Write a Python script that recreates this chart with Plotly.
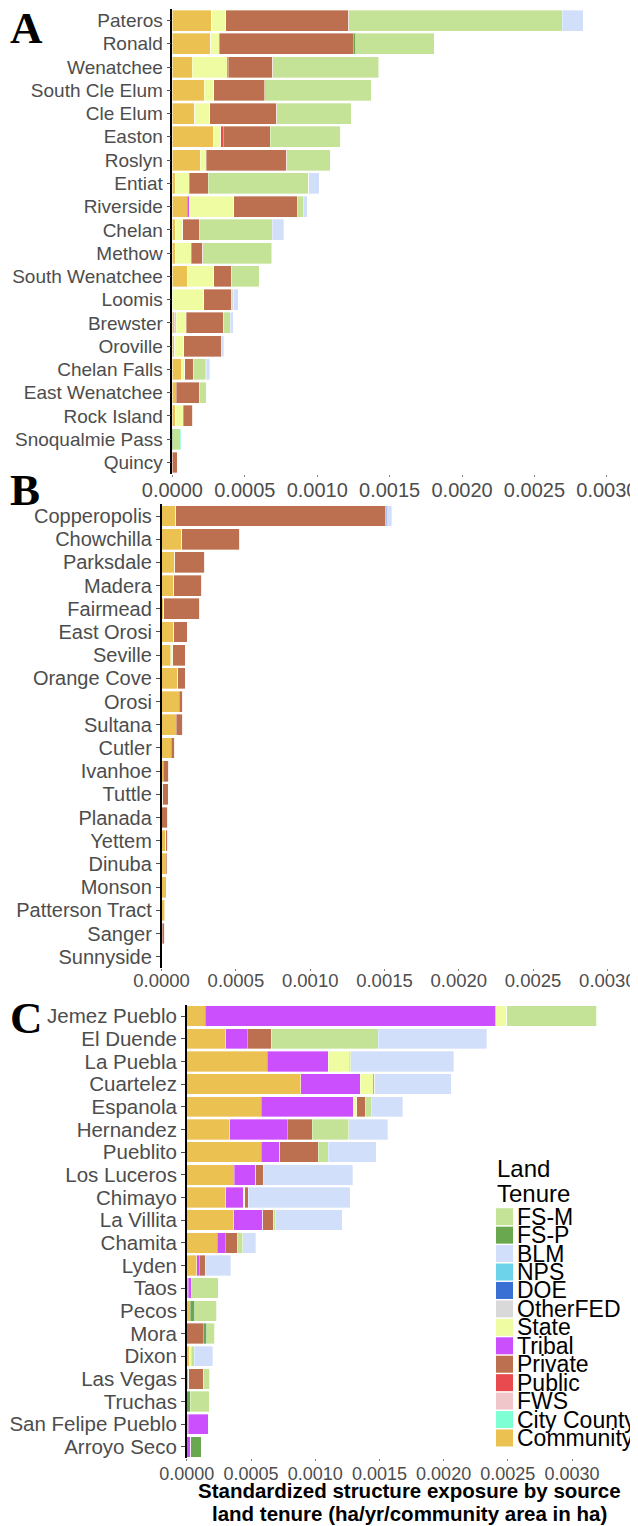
import plotly.graph_objects as go

# the page body keeps the browser's 8px margin, so the figure is sized to
# the visible 638x1526 window minus that offset
OFFSET = 8
W, H = 638 - OFFSET, 1526 - OFFSET
SCALE = 1e-4  # values below are read in units of 1e-4 ha/yr/ha

# legend order (top to bottom) and colours
TENURES = ["FS-M", "FS-P", "BLM", "NPS", "DOE", "OtherFED", "State",
           "Tribal", "Private", "Public", "FWS", "City County", "Community"]
COLORS = {
    "FS-M": "#C5E396", "FS-P": "#6AA84F", "BLM": "#D2DFFB", "NPS": "#6DD3EB",
    "DOE": "#3A70D4", "OtherFED": "#D9D9D9", "State": "#EFFCA2",
    "Tribal": "#CC4FFD", "Private": "#BD7050", "Public": "#E84A50",
    "FWS": "#F0C6CB", "City County": "#7FFFD4", "Community": "#EBC152",
}
# order in which segments stack from the axis outwards
STACK_ORDER = ["Community", "FWS", "Tribal", "State", "Public", "Private",
               "FS-P", "FS-M", "City County", "OtherFED", "DOE", "NPS", "BLM"]

# ---- panel A (Washington) ----
A_NAMES = ["Pateros", "Ronald", "Wenatchee", "South Cle Elum", "Cle Elum",
           "Easton", "Roslyn", "Entiat", "Riverside", "Chelan", "Methow",
           "South Wenatchee", "Loomis", "Brewster", "Oroville", "Chelan Falls",
           "East Wenatchee", "Rock Island", "Snoqualmie Pass", "Quincy"]
A_COMMUNITY = [2.70, 2.66, 1.37, 2.19, 1.54, 2.82, 1.91, 0.19, 1.03, 0.19,
               0.18, 1.01, 0, 0.12, 0.16, 0.60, 0.25, 0.23, 0, 0]
A_FWS = [0, 0, 0, 0, 0, 0, 0, 0, 0, 0, 0, 0, 0, 0.14, 0, 0, 0, 0, 0, 0]
A_TRIBAL = [0, 0, 0, 0, 0, 0, 0, 0, 0.14, 0, 0, 0, 0, 0, 0, 0, 0, 0, 0, 0]
A_STATE = [1.00, 0.58, 2.40, 0.65, 1.03, 0.51, 0.42, 0.96, 3.05, 0.54,
           1.13, 1.84, 2.16, 0.71, 0.62, 0.25, 0, 0.53, 0, 0]
A_PUBLIC = [0, 0, 0.10, 0, 0, 0.19, 0, 0, 0, 0, 0, 0, 0, 0, 0, 0, 0, 0, 0, 0]
A_PRIVATE = [8.46, 9.25, 3.05, 3.52, 4.64, 3.24, 5.55, 1.33, 4.40, 1.12,
             0.78, 1.24, 1.91, 2.58, 2.58, 0.64, 1.63, 0.64, 0, 0.32]
A_FSP = [0, 0.16, 0, 0.07, 0, 0, 0, 0, 0, 0, 0, 0, 0, 0, 0, 0, 0, 0, 0.09, 0]
A_FSM = [14.77, 5.43, 7.34, 7.32, 5.15, 4.87, 3.03, 6.92, 0.42, 5.06,
         4.72, 1.91, 0, 0.46, 0, 0.78, 0.48, 0.09, 0.46, 0]
A_CITY = [0, 0, 0.07, 0, 0, 0, 0, 0, 0, 0, 0, 0, 0, 0, 0, 0.07, 0, 0, 0.05, 0]
A_OTHERFED = [0, 0, 0, 0, 0, 0, 0, 0, 0, 0, 0, 0, 0.16, 0, 0, 0, 0, 0, 0, 0]
A_BLM = [1.44, 0, 0, 0, 0, 0, 0, 0.75, 0.28, 0.77, 0.07, 0, 0.30, 0.18,
         0.18, 0.23, 0, 0, 0, 0]

# ---- panel B (California) ----
B_NAMES = ["Copperopolis", "Chowchilla", "Parksdale", "Madera", "Fairmead",
           "East Orosi", "Seville", "Orange Cove", "Orosi", "Sultana", "Cutler",
           "Ivanhoe", "Tuttle", "Planada", "Yettem", "Dinuba", "Monson",
           "Patterson Tract", "Sanger", "Sunnyside"]
B_COMMUNITY = [0.96, 1.34, 0.90, 0.82, 0.16, 0.82, 0.60, 1.07, 1.18, 0.99,
               0.66, 0.11, 0.08, 0.02, 0.27, 0.30, 0.33, 0.22, 0.05, 0.05]
B_STATE = [0, 0, 0, 0, 0, 0, 0.14, 0, 0, 0, 0, 0, 0, 0, 0, 0, 0, 0.05, 0, 0]
B_PRIVATE = [14.11, 3.92, 2.00, 1.89, 2.41, 0.90, 0.85, 0.52, 0.25, 0.44,
             0.22, 0.38, 0.38, 0.41, 0.14, 0.08, 0.01, 0, 0.16, 0]
B_DOE = [0.08, 0, 0, 0, 0, 0, 0, 0, 0, 0, 0, 0, 0, 0, 0, 0, 0, 0, 0, 0]
B_BLM = [0.33, 0, 0, 0, 0, 0, 0, 0, 0, 0, 0, 0, 0, 0, 0, 0, 0, 0, 0, 0]

# ---- panel C (New Mexico) ----
C_NAMES = ["Jemez Pueblo", "El Duende", "La Puebla", "Cuartelez", "Espanola",
           "Hernandez", "Pueblito", "Los Luceros", "Chimayo", "La Villita",
           "Chamita", "Lyden", "Taos", "Pecos", "Mora", "Dixon", "Las Vegas",
           "Truchas", "San Felipe Pueblo", "Arroyo Seco"]
C_COMMUNITY = [1.43, 3.04, 6.28, 8.88, 5.80, 3.36, 5.80, 3.71, 3.04, 3.65,
               2.38, 0.79, 0.13, 0.25, 0, 0.19, 0.16, 0, 0.13, 0]
C_TRIBAL = [22.63, 1.65, 4.72, 4.63, 7.16, 4.47, 1.43, 1.65, 1.36, 2.28,
            0.63, 0.19, 0.22, 0, 0, 0, 0, 0, 1.55, 0.29]
C_STATE = [0.86, 0, 1.65, 1.01, 0.29, 0, 0, 0, 0.13, 0, 0, 0, 0, 0, 0,
           0.16, 0, 0, 0, 0]
C_PRIVATE = [0, 1.93, 0, 0.13, 0.63, 1.93, 3.01, 0.60, 0.25, 0.86, 0.92,
             0.44, 0, 0, 1.27, 0, 1.17, 0, 0, 0]
C_FSP = [0, 0, 0, 0, 0, 0, 0, 0, 0, 0, 0, 0, 0, 0.35, 0.29, 0, 0, 0.25, 0, 0.82]
C_FSM = [7.01, 8.27, 0.13, 0, 0.48, 2.85, 0.79, 0, 0, 0.10, 0.41, 0, 2.09,
         1.74, 0.60, 0.22, 0.44, 1.49, 0, 0]
C_BLM = [0, 8.46, 8.02, 5.93, 2.44, 3.04, 3.71, 6.97, 7.93, 5.20, 1.01,
         2.00, 0, 0, 0, 1.46, 0, 0, 0, 0]

TICK_VALS = [0, 0.0005, 0.0010, 0.0015, 0.0020, 0.0025, 0.0030]
TICK_TEXT = ["0.0000", "0.0005", "0.0010", "0.0015", "0.0020", "0.0025", "0.0030"]

panels = [
    dict(letter="A", names=A_NAMES,
         data={"Community": A_COMMUNITY, "FWS": A_FWS, "Tribal": A_TRIBAL,
               "State": A_STATE, "Public": A_PUBLIC, "Private": A_PRIVATE,
               "FS-P": A_FSP, "FS-M": A_FSM, "City County": A_CITY,
               "OtherFED": A_OTHERFED, "BLM": A_BLM},
         x0=172.4, x1=638, xmax=0.003215, top=8.9, bottom=474.1,
         yfont=19, xfont=20, standoff=-4, letter_y=28),
    dict(letter="B", names=B_NAMES,
         data={"Community": B_COMMUNITY, "State": B_STATE,
               "Private": B_PRIVATE, "DOE": B_DOE, "BLM": B_BLM},
         x0=161.6, x1=638, xmax=0.003206, top=504.4, bottom=968.3,
         yfont=20, xfont=18.5, standoff=-7, letter_y=490),
    dict(letter="C", names=C_NAMES,
         data={"Community": C_COMMUNITY, "Tribal": C_TRIBAL, "State": C_STATE,
               "Private": C_PRIVATE, "FS-P": C_FSP, "FS-M": C_FSM,
               "BLM": C_BLM},
         x0=186.8, x1=600.3, xmax=0.00322, top=1004.7, bottom=1458.3,
         yfont=20.5, xfont=18, standoff=-3, letter_y=1017.5),
]

SANS = "Liberation Sans, Arial, sans-serif"
SERIF = "Liberation Serif, Times New Roman, serif"


def fx(p):
    # window pixel -> paper fraction
    return (p - OFFSET) / W


def fy(p):
    return 1 - (p - OFFSET) / H


fig = go.Figure()
layout = {}
annotations = []
shapes = []

for i, p in enumerate(panels, start=1):
    suffix = "" if i == 1 else str(i)
    for tenure in STACK_ORDER:
        if tenure not in p["data"]:
            continue
        fig.add_trace(go.Bar(
            x=[v * SCALE for v in p["data"][tenure]],
            y=p["names"],
            orientation="h",
            name=tenure,
            marker=dict(color=COLORS[tenure],
                        line=dict(color="rgba(255,255,255,0.7)", width=0.5)),
            xaxis="x" + suffix,
            yaxis="y" + suffix,
            showlegend=False,
        ))
    layout["xaxis" + suffix] = dict(
        domain=[fx(p["x0"]), min(fx(p["x1"]), 1)],
        range=[0, p["xmax"]],
        anchor="y" + suffix,
        automargin=False,
        showgrid=False, zeroline=False, showline=False,
        ticks="outside", ticklen=2, tickwidth=1, tickcolor="#7F7F7F",
        tickmode="array", tickvals=TICK_VALS, ticktext=TICK_TEXT,
        ticklabeloverflow="allow", ticklabelstandoff=p["standoff"],
        tickfont=dict(family=SANS, size=p["xfont"], color="#4D4D4D"),
    )
    layout["yaxis" + suffix] = dict(
        domain=[fy(p["bottom"]), fy(p["top"])],
        anchor="x" + suffix,
        automargin=False,
        type="category",
        categoryorder="array",
        categoryarray=p["names"][::-1],
        tickmode="array", tickvals=p["names"],
        range=[-0.5, len(p["names"]) - 0.5],
        showgrid=False, zeroline=False,
        showline=True, linecolor="black", linewidth=1.5,
        ticks="outside", ticklen=4, tickwidth=1, tickcolor="#4D4D4D",
        tickfont=dict(family=SANS, size=p["yfont"], color="#4D4D4D"),
    )
    annotations.append(dict(
        text="<b>%s</b>" % p["letter"], xref="paper", yref="paper",
        x=fx(8), y=fy(p["letter_y"]), xanchor="left", yanchor="middle",
        showarrow=False, font=dict(family=SERIF, size=45, color="black"),
    ))

# x-axis title under panel C
for txt, ypix in [("Standardized structure exposure by source", 1490.7),
                  ("land tenure (ha/yr/community area in ha)", 1513.3)]:
    annotations.append(dict(
        text="<b>%s</b>" % txt, xref="paper", yref="paper",
        x=fx(409), y=fy(ypix), xanchor="center", yanchor="middle",
        showarrow=False, font=dict(family=SANS, size=20.5, color="black"),
    ))

# legend drawn by hand to reproduce the tight ggplot key spacing
for txt, ypix in [("Land", 1168), ("Tenure", 1193)]:
    annotations.append(dict(
        text=txt, xref="paper", yref="paper", x=fx(495), y=fy(ypix),
        xanchor="left", yanchor="middle", showarrow=False,
        font=dict(family=SANS, size=24, color="black"),
    ))
for k, tenure in enumerate(TENURES):
    yc = 1216.7 + k * 18.44
    shapes.append(dict(
        type="rect", xref="paper", yref="paper",
        x0=fx(496), x1=fx(513), y0=fy(yc + 8.5), y1=fy(yc - 8.5),
        fillcolor=COLORS[tenure], line=dict(width=0),
    ))
    annotations.append(dict(
        text=tenure, xref="paper", yref="paper", x=fx(515), y=fy(yc),
        xanchor="left", yanchor="middle", showarrow=False,
        font=dict(family=SANS, size=23, color="black"),
    ))

fig.update_layout(
    template="none",
    width=W, height=H,
    margin=dict(l=0, r=0, t=0, b=0, autoexpand=False),
    barmode="stack", bargap=0.1,
    paper_bgcolor="white", plot_bgcolor="white",
    annotations=annotations, shapes=shapes,
    showlegend=False,
    **layout,
)

fig.write_html("out.html")
